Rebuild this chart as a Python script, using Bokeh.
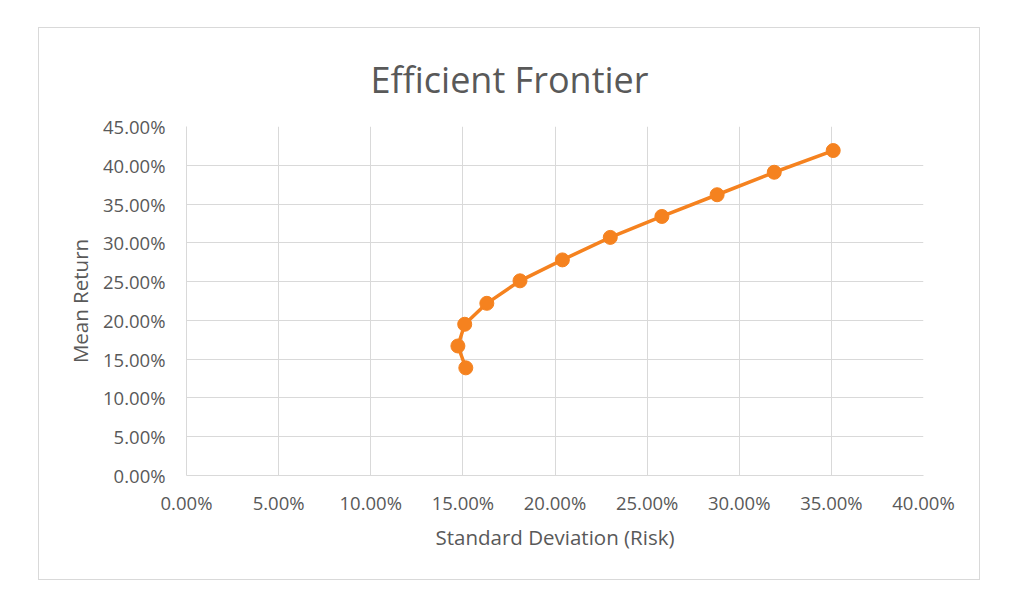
from bokeh.plotting import figure
from bokeh.models import NumeralTickFormatter, FixedTicker, Range1d
from bokeh.embed import file_html
from bokeh.resources import INLINE

risk = [0.1516, 0.1473, 0.1510, 0.1630, 0.1810, 0.2040, 0.2300, 0.2580, 0.2880, 0.3190, 0.3510]
ret = [0.1388, 0.1670, 0.1950, 0.2220, 0.2510, 0.2780, 0.3070, 0.3340, 0.3620, 0.3910, 0.4190]
x_ticks = [0.0, 0.05, 0.10, 0.15, 0.20, 0.25, 0.30, 0.35, 0.40]
y_ticks = [0.0, 0.05, 0.10, 0.15, 0.20, 0.25, 0.30, 0.35, 0.40, 0.45]

FONT = "Open Sans"
TXT = "#595959"
GRID = "#D9D9D9"
ORANGE = "#F5821F"

p = figure(width=942, height=553, output_backend="svg", toolbar_location=None,
           x_range=Range1d(0, 0.40), y_range=Range1d(0, 0.45),
           min_border_left=147, min_border_right=58, min_border_top=98, min_border_bottom=106,
           title="Efficient Frontier")
p.margin = (27, 0, 0, 38)
p.styles = {"border": "1px solid #D9D9D9"}

p.title.align = "left"
p.title.text_font = FONT
p.title.text_font_size = "36px"
p.title.text_font_style = "normal"
p.title.text_color = TXT
p.title.offset = 184
p.title.standoff = 45

p.outline_line_color = None
p.background_fill_color = "white"
p.border_fill_color = "white"

p.xaxis.ticker = FixedTicker(ticks=x_ticks)
p.yaxis.ticker = FixedTicker(ticks=y_ticks)
p.xaxis.formatter = NumeralTickFormatter(format="0.00%")
p.yaxis.formatter = NumeralTickFormatter(format="0.00%")

for ax in (p.xaxis[0], p.yaxis[0]):
    ax.axis_line_color = GRID
    ax.major_tick_line_color = None
    ax.minor_tick_line_color = None
    ax.major_label_text_font = FONT
    ax.major_label_text_font_size = "18.5px"
    ax.major_label_text_color = TXT
    ax.axis_label_text_font = FONT
    ax.axis_label_text_font_size = "20.5px"
    ax.axis_label_text_font_style = "normal"
    ax.axis_label_text_color = TXT

p.xaxis.axis_label = "Standard Deviation (Risk)"
p.yaxis.axis_label = "Mean Return"
p.xaxis.major_label_standoff = 8
p.yaxis.major_label_standoff = 15
p.xaxis.axis_label_standoff = 5
p.yaxis.axis_label_standoff = 6

p.xgrid.grid_line_color = GRID
p.ygrid.grid_line_color = GRID
p.xgrid.grid_line_width = 1
p.ygrid.grid_line_width = 1

p.line(risk, ret, line_color=ORANGE, line_width=3.5)
p.scatter(risk, ret, size=14, fill_color=ORANGE, line_color=ORANGE)

open("out.html", "w").write(file_html(p, INLINE))
